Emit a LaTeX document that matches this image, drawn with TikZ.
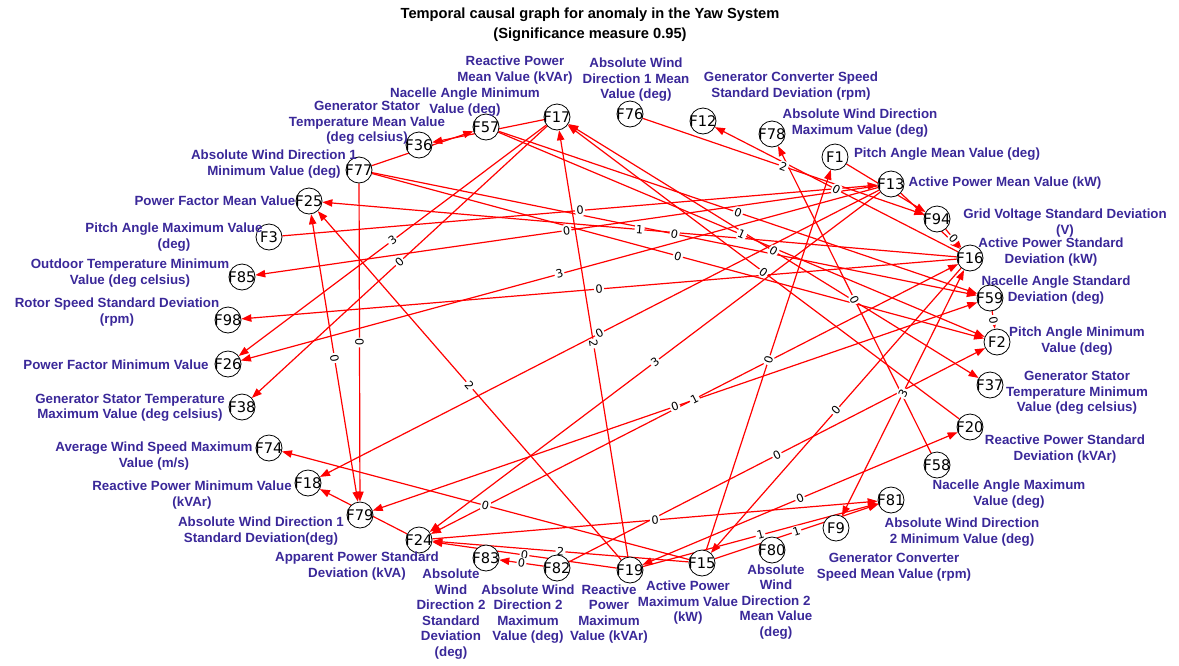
\documentclass[tikz,border=0pt]{standalone}
\usepackage{fontspec}
\setmainfont{Liberation Sans}
\newfontfamily\idfont{DejaVu Sans}
\usetikzlibrary{arrows.meta}
\definecolor{descblue}{RGB}{58,40,153}
\pgfdeclarelayer{links}
\pgfdeclarelayer{lags}
\pgfsetlayers{links,lags,main}
\tikzset{
  feat/.style={circle, draw=black, fill=white, line width=0.6pt, minimum size=19.5pt,
               inner sep=0pt, font=\idfont\fontsize{11}{11}\selectfont},
  desc/.style={text=descblue, font=\bfseries\fontsize{10}{11.6}\selectfont,
               align=center, inner sep=0pt},
  cause/.style={draw=red, line width=0.9pt, -{Triangle[length=7.5pt,width=5.5pt]}},
  both/.style={cause, {Triangle[length=7.5pt,width=5.5pt]}-{Triangle[length=7.5pt,width=5.5pt]}},
  lag/.style={sloped, fill=white, inner sep=1pt, rounded corners=2pt,
              font=\idfont\fontsize{8.5}{8.5}\selectfont},
  ttl/.style={font=\bfseries\fontsize{11}{15}\selectfont, align=center},
}
% source/target/lag/style
\newcommand{\lagedges}{F76/F94/2/cause, F16/F12/0/cause, F3/F13/0/cause, F13/F85/0/cause,
  F16/F25/1/cause, F77/F59/0/cause, F57/F59/0/cause, F57/F2/1/cause, F17/F37/0/both,
  F77/F2/0/cause, F20/F17/0/cause, F58/F78/0/cause, F94/F16/0/cause, F59/F2/0/cause,
  F17/F26/3/cause, F17/F38/0/cause, F13/F26/3/cause, F16/F98/0/cause, F77/F79/0/cause,
  F19/F25/2/cause, F13/F18/0/cause, F19/F17/2/cause, F13/F24/3/cause, F15/F1/0/cause,
  F24/F16/1/both, F9/F16/3/both, F16/F15/0/cause, F82/F2/0/cause, F15/F74/0/cause,
  F19/F24/0/cause, F15/F24/2/cause, F82/F83/0/cause, F24/F81/0/cause, F19/F81/1/cause,
  F15/F81/1/cause, F25/F79/0/both, F79/F59/0/both, F19/F20/0/both}
\begin{document}
\begin{tikzpicture}[x=0.75pt, y=-0.75pt]
  \useasboundingbox (0,0) rectangle (1179,665);
  \node[ttl] (title) at (590,25) {Temporal causal graph for anomaly in the Yaw System\\(Significance measure 0.95)};

  % features on the ring
  \foreach \id/\x/\y in {F17/557/117, F76/630/114, F12/703/121, F78/772/134, F1/835/157,
      F13/891/184, F94/937/219, F16/970/258, F59/990/298, F2/997/342, F37/990/385,
      F20/970/427, F58/937/465, F81/891/500, F9/836/528, F80/772/550, F15/702/563,
      F19/630/570, F82/557/568, F83/486/558, F24/419/540, F79/360/515, F18/308/483,
      F74/269/448, F38/242/407, F26/228/364, F98/228/320, F85/242/277, F3/269/237,
      F25/309/201, F77/359/170, F36/419/145, F57/486/127}
    \node[feat] (\id) at (\x,\y) {\makebox[0pt]{\id}};

  % descriptions
  \node[desc] (d17) at (515,70) {Reactive Power\\Mean Value (kVAr)};
  \node[desc] (d57) at (465,102) {Nacelle Angle Minimum\\Value (deg)};
  \node[desc] (d36) at (367,123) {Generator Stator\\Temperature Mean Value\\(deg celsius)};
  \node[desc] (d77) at (274,164) {Absolute Wind Direction 1\\Minimum Value (deg)};
  \node[desc] (d25) at (215,201) {Power Factor Mean Value};
  \node[desc] (d3) at (174,237) {Pitch Angle Maximum Value\\(deg)};
  \node[desc] (d85) at (130,273) {Outdoor Temperature Minimum\\Value (deg celsius)};
  \node[desc] (d98) at (117,312) {Rotor Speed Standard Deviation\\(rpm)};
  \node[desc] (d26) at (116,365) {Power Factor Minimum Value};
  \node[desc] (d38) at (130,408) {Generator Stator Temperature\\Maximum Value (deg celsius)};
  \node[desc] (d74) at (154,456) {Average Wind Speed Maximum\\Value (m/s)};
  \node[desc] (d18) at (192,495) {Reactive Power Minimum Value\\(kVAr)};
  \node[desc] (d79) at (261,531) {Absolute Wind Direction 1\\Standard Deviation(deg)};
  \node[desc] (d24) at (357,566) {Apparent Power Standard\\Deviation (kVA)};
  \node[desc] (d83) at (451,614) {Absolute\\Wind\\Direction 2\\Standard\\Deviation\\(deg)};
  \node[desc] (d82) at (528,614) {Absolute Wind\\Direction 2\\Maximum\\Value (deg)};
  \node[desc] (d19) at (609,614) {Reactive\\Power\\Maximum\\Value (kVAr)};
  \node[desc] (d15) at (688,603) {Active Power\\Maximum Value\\(kW)};
  \node[desc] (d80) at (776,602) {Absolute\\Wind\\Direction 2\\Mean Value\\(deg)};
  \node[desc] (d9) at (894,567) {Generator Converter\\Speed Mean Value (rpm)};
  \node[desc] (d81) at (962,532) {Absolute Wind Direction\\2 Minimum Value (deg)};
  \node[desc] (d58) at (1009,494) {Nacelle Angle Maximum\\Value (deg)};
  \node[desc] (d20) at (1065,449) {Reactive Power Standard\\Deviation (kVAr)};
  \node[desc] (d37) at (1077,393) {Generator Stator\\Temperature Minimum\\Value (deg celsius)};
  \node[desc] (d2) at (1077,341) {Pitch Angle Minimum\\Value (deg)};
  \node[desc] (d59) at (1056,290) {Nacelle Angle Standard\\Deviation (deg)};
  \node[desc] (d16) at (1051,252) {Active Power Standard\\Deviation (kW)};
  \node[desc] (d94) at (1065,223) {Grid Voltage Standard Deviation\\(V)};
  \node[desc] (d13) at (1005,183) {Active Power Mean Value (kW)};
  \node[desc] (d1) at (947,154) {Pitch Angle Mean Value (deg)};
  \node[desc] (d78) at (860,123) {Absolute Wind Direction\\Maximum Value (deg)};
  \node[desc] (d12) at (791,86) {Generator Converter Speed\\Standard Deviation (rpm)};
  \node[desc] (d76) at (636,80) {Absolute Wind\\Direction 1 Mean\\Value (deg)};

  % causal links, lag labels on top of them
  \begin{pgfonlayer}{links}
    \foreach \a/\b/\l/\s in \lagedges
      \draw[\s] (\a) -- (\b);
    \foreach \a/\b in {F17/F36, F77/F57, F24/F18, F13/F16, F1/F94}
      \draw[cause] (\a) -- (\b);
  \end{pgfonlayer}
  \begin{pgfonlayer}{lags}
    \foreach \a/\b/\l/\s in \lagedges
      \path (\a) -- node[lag] {\l} (\b);
  \end{pgfonlayer}
\end{tikzpicture}
\end{document}
